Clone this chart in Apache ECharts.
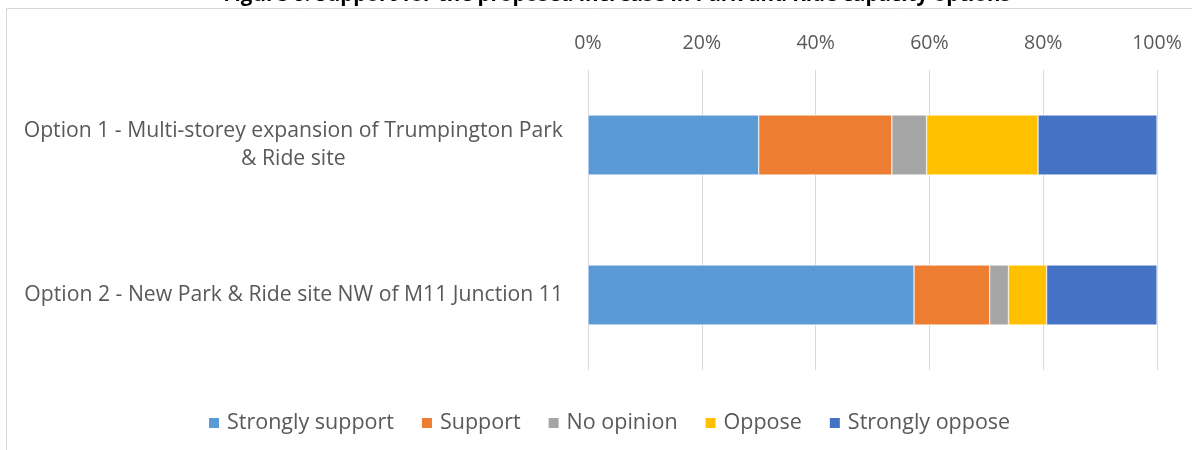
<!DOCTYPE html>
<html>
<head>
<meta charset="utf-8">
<script src="https://cdn.jsdelivr.net/npm/echarts@6/dist/echarts.min.js"></script>
<style>
  html, body { margin: 0; padding: 0; background: #fff; }
  #chart { width: 1192px; height: 450px; }
</style>
</head>
<body>
<div id="chart"></div>
<script>
// Options shown on the vertical axis (top to bottom)
const options = [
  'Option 1 - Multi-storey expansion of Trumpington Park\n& Ride site',
  'Option 2 - New Park & Ride site NW of M11 Junction 11'
];

// Share of respondents (%) per response, one entry per option
const stronglySupport = [30.0, 57.3];
const support         = [23.4, 13.3];
const noOpinion       = [6.1, 3.3];
const oppose          = [19.6, 6.7];
const stronglyOppose  = [20.9, 19.4];

const responseNames  = ['Strongly support', 'Support', 'No opinion', 'Oppose', 'Strongly oppose'];
const responseColors = ['#5B9BD5', '#ED7D31', '#A5A5A5', '#FFC000', '#4472C4'];
const responseValues = [stronglySupport, support, noOpinion, oppose, stronglyOppose];

const axisTicks = [0, 20, 40, 60, 80, 100];

const FONT = '"Open Sans", Lato, sans-serif';
const chart = echarts.init(document.getElementById('chart'), null, { renderer: 'canvas' });

chart.setOption({
  animation: false,
  backgroundColor: '#ffffff',
  title: {
    text: 'Figure 6: Support for the proposed increase in Park and Ride capacity options',
    left: 612,
    textAlign: 'center',
    top: -20,
    textStyle: { fontFamily: FONT, fontSize: 20.5, fontWeight: 'bold', color: '#000' }
  },
  graphic: [{
    type: 'rect',
    silent: true,
    z: -1,
    shape: { x: 6.5, y: 8.5, width: 1200, height: 500 },
    style: { fill: 'none', stroke: '#d9d9d9', lineWidth: 1 }
  }],
  legend: {
    bottom: 11,
    left: 202,
    itemWidth: 12,
    itemHeight: 12,
    itemGap: 26,
    icon: 'rect',
    data: responseNames,
    textStyle: { fontFamily: FONT, fontSize: 21.5, color: '#595959', padding: [0, 0, 0, 2] }
  },
  grid: { left: 588, right: 35, top: 70, bottom: 80 },
  xAxis: {
    type: 'value',
    position: 'top',
    min: axisTicks[0],
    max: axisTicks[axisTicks.length - 1],
    interval: axisTicks[1] - axisTicks[0],
    axisLine: { show: false },
    axisTick: { show: false },
    splitLine: { lineStyle: { color: '#d9d9d9', width: 1 } },
    axisLabel: {
      formatter: '{value}%',
      margin: 17,
      fontFamily: FONT, fontSize: 19.5, color: '#595959'
    }
  },
  yAxis: {
    type: 'category',
    inverse: true,
    data: options,
    axisLine: { show: false },
    axisTick: { show: false },
    axisLabel: {
      margin: 25,
      align: 'right',
      formatter: function (v) {
        return v.split('\n').map(function (l) { return '{c|' + l + '}'; }).join('\n');
      },
      rich: {
        c: { align: 'center', fontFamily: FONT, fontSize: 21.2, color: '#595959', lineHeight: 28 }
      }
    }
  },
  series: responseNames.map(function (name, i) {
    return {
      name: name,
      type: 'bar',
      stack: 'total',
      barWidth: '40%',
      data: responseValues[i],
      itemStyle: { color: responseColors[i], borderColor: '#ffffff', borderWidth: 0.5 }
    };
  })
});
</script>
</body>
</html>
